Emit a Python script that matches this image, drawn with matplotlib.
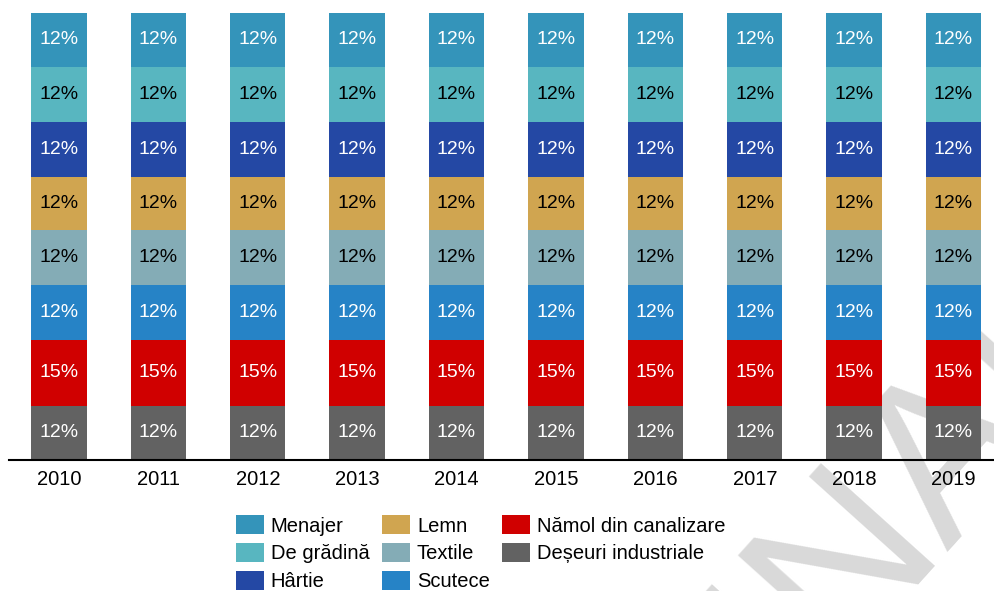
import matplotlib.pyplot as plt
import numpy as np

plt.rcParams['font.family'] = ['Liberation Sans', 'DejaVu Sans']

years = ['2010', '2011', '2012', '2013', '2014', '2015', '2016', '2017', '2018', '2019']

# shares in %, bottom to top of each bar
deseuri_industriale = [12.2] * 10
namol = [14.8] * 10
scutece = [12.2] * 10
textile = [12.3] * 10
lemn = [12.1] * 10
hartie = [12.3] * 10
de_gradina = [12.3] * 10
menajer = [12.1] * 10

series = [
    ('Deșeuri industriale', deseuri_industriale, '#626262', 'white'),
    ('Nămol din canalizare', namol, '#D00000', 'white'),
    ('Scutece', scutece, '#2683C6', 'white'),
    ('Textile', textile, '#84ACB6', 'black'),
    ('Lemn', lemn, '#D0A550', 'black'),
    ('Hârtie', hartie, '#2448A4', 'white'),
    ('De grădină', de_gradina, '#58B6C0', 'black'),
    ('Menajer', menajer, '#3494BA', 'white'),
]

fig = plt.figure(figsize=(9.95, 5.91), dpi=100)
ax = fig.add_axes([0.0093, 0.2217, 0.999, 0.7563])
ax.patch.set_alpha(0)

# watermark behind the chart
fig.text(0.875, 0.1, 'FINAL', fontsize=160, color='#d9d9d9', rotation=48,
         ha='center', va='center', zorder=-1)

x = np.arange(len(years))
bottom = np.zeros(len(years))
handles = []
for name, vals, color, tcolor in series:
    vals = np.array(vals)
    bars = ax.bar(x, vals, 0.558, bottom=bottom, color=color, label=name)
    labels = ['%d%%' % round(v) for v in vals]
    ax.bar_label(bars, labels=labels, label_type='center', color=tcolor, fontsize=14)
    handles.append(bars)
    bottom = bottom + vals

ax.set_xlim(-0.5, 9.5)
ax.set_ylim(0, bottom.max())
ax.set_xticks(x)
ax.set_xticklabels(years, fontsize=14.5)
ax.tick_params(axis='x', length=0, pad=7)
ax.set_yticks([])
for s in ['top', 'left', 'right']:
    ax.spines[s].set_visible(False)
ax.spines['bottom'].set_linewidth(1.5)

handles = handles[::-1]
fig.legend(handles, [h.get_label() for h in handles], ncol=3, loc='upper center',
           bbox_to_anchor=(0.483, 0.145), frameon=False, fontsize=14.5,
           handlelength=1.4, handleheight=1.05, handletextpad=0.35,
           columnspacing=0.6, labelspacing=0.38, borderpad=0)

fig.savefig('out.png', dpi=100)
